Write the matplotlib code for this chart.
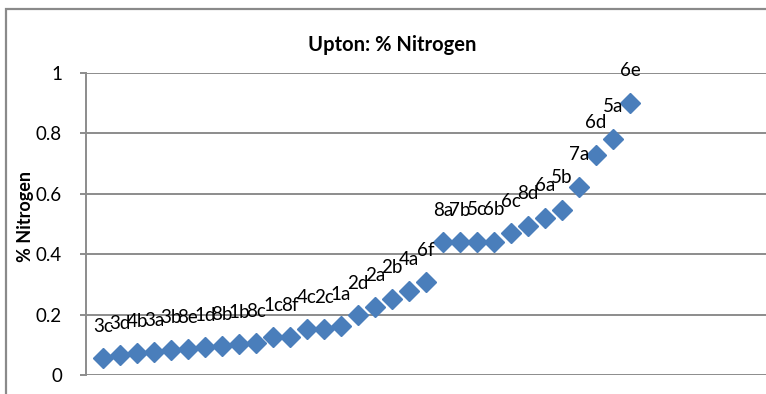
import matplotlib
matplotlib.use("Agg")
import matplotlib.pyplot as plt
from matplotlib.patches import Rectangle

plt.rcParams['font.family'] = ['Lato', 'DejaVu Sans']

# Samples ordered by nitrogen content
sample_labels = ['3c', '3d', '4b', '3a', '3b', '8e', '1d', '8b', '1b', '8c',
                 '1c', '8f', '4c', '2c', '1a', '2d', '2a', '2b', '4a', '6f',
                 '8a', '7b', '5c', '6b', '6c', '8d', '6a', '5b', '7a', '6d',
                 '5a', '6e']
nitrogen_pct = [0.056, 0.066, 0.073, 0.076, 0.083, 0.086, 0.092, 0.096, 0.102, 0.106,
                0.125, 0.125, 0.152, 0.152, 0.162, 0.198, 0.224, 0.251, 0.277, 0.307,
                0.439, 0.439, 0.442, 0.442, 0.469, 0.495, 0.521, 0.548, 0.624, 0.729,
                0.782, 0.901]
y_ticks = [0, 0.2, 0.4, 0.6, 0.8, 1.0]
y_tick_labels = ['0', '0.2', '0.4', '0.6', '0.8', '1']

W, H = 766, 394
fig = plt.figure(figsize=(W / 100, H / 100), dpi=100)

# Chart-area border (left and top edges visible)
fig.add_artist(Rectangle((6 / W, -0.1), 1.2, (H - 9) / H + 0.1,
                         transform=fig.transFigure, fill=False,
                         edgecolor='#8a8a8a', linewidth=1.6))

left, right, bottom, top = 86, 786, 375, 73
ax = fig.add_axes([left / W, (H - bottom) / H, (right - left) / W, (bottom - top) / H])
ax.set_facecolor('none')

x = list(range(1, len(nitrogen_pct) + 1))
ax.plot(x, nitrogen_pct, linestyle='none', marker='D', markersize=10.5,
        color='#4a7ebb', markeredgecolor='#4a7ebb', zorder=3, clip_on=False)

for xi, yi, lab in zip(x, nitrogen_pct, sample_labels):
    ax.annotate(lab, (xi, yi), xytext=(0, 23), textcoords='offset points',
                ha='center', va='center', fontsize=13.5, color='#000000')

ax.set_xlim(0, (right - left) / 17)
ax.set_ylim(0, 1)
ax.set_yticks(y_ticks)
ax.set_yticklabels(y_tick_labels)
ax.set_xticks([])
ax.grid(axis='y', color='#8c8c8c', linewidth=1.4)
ax.set_axisbelow(True)

for side in ['top', 'right', 'bottom']:
    ax.spines[side].set_visible(False)
ax.spines['left'].set_color('#8c8c8c')
ax.spines['left'].set_linewidth(1.4)
ax.tick_params(axis='y', length=4.3, width=1.4, color='#8c8c8c', pad=13,
               labelsize=13.5, labelcolor='#000000')

fig.text(392 / W, 1 - 45 / H, 'Upton: % Nitrogen', ha='center', va='center',
         fontsize=14.5, fontweight='bold')
fig.text(26 / W, 1 - 216 / H, '% Nitrogen', ha='center', va='center',
         rotation=90, fontsize=13, fontweight='bold')

fig.savefig('out.png', dpi=100)
